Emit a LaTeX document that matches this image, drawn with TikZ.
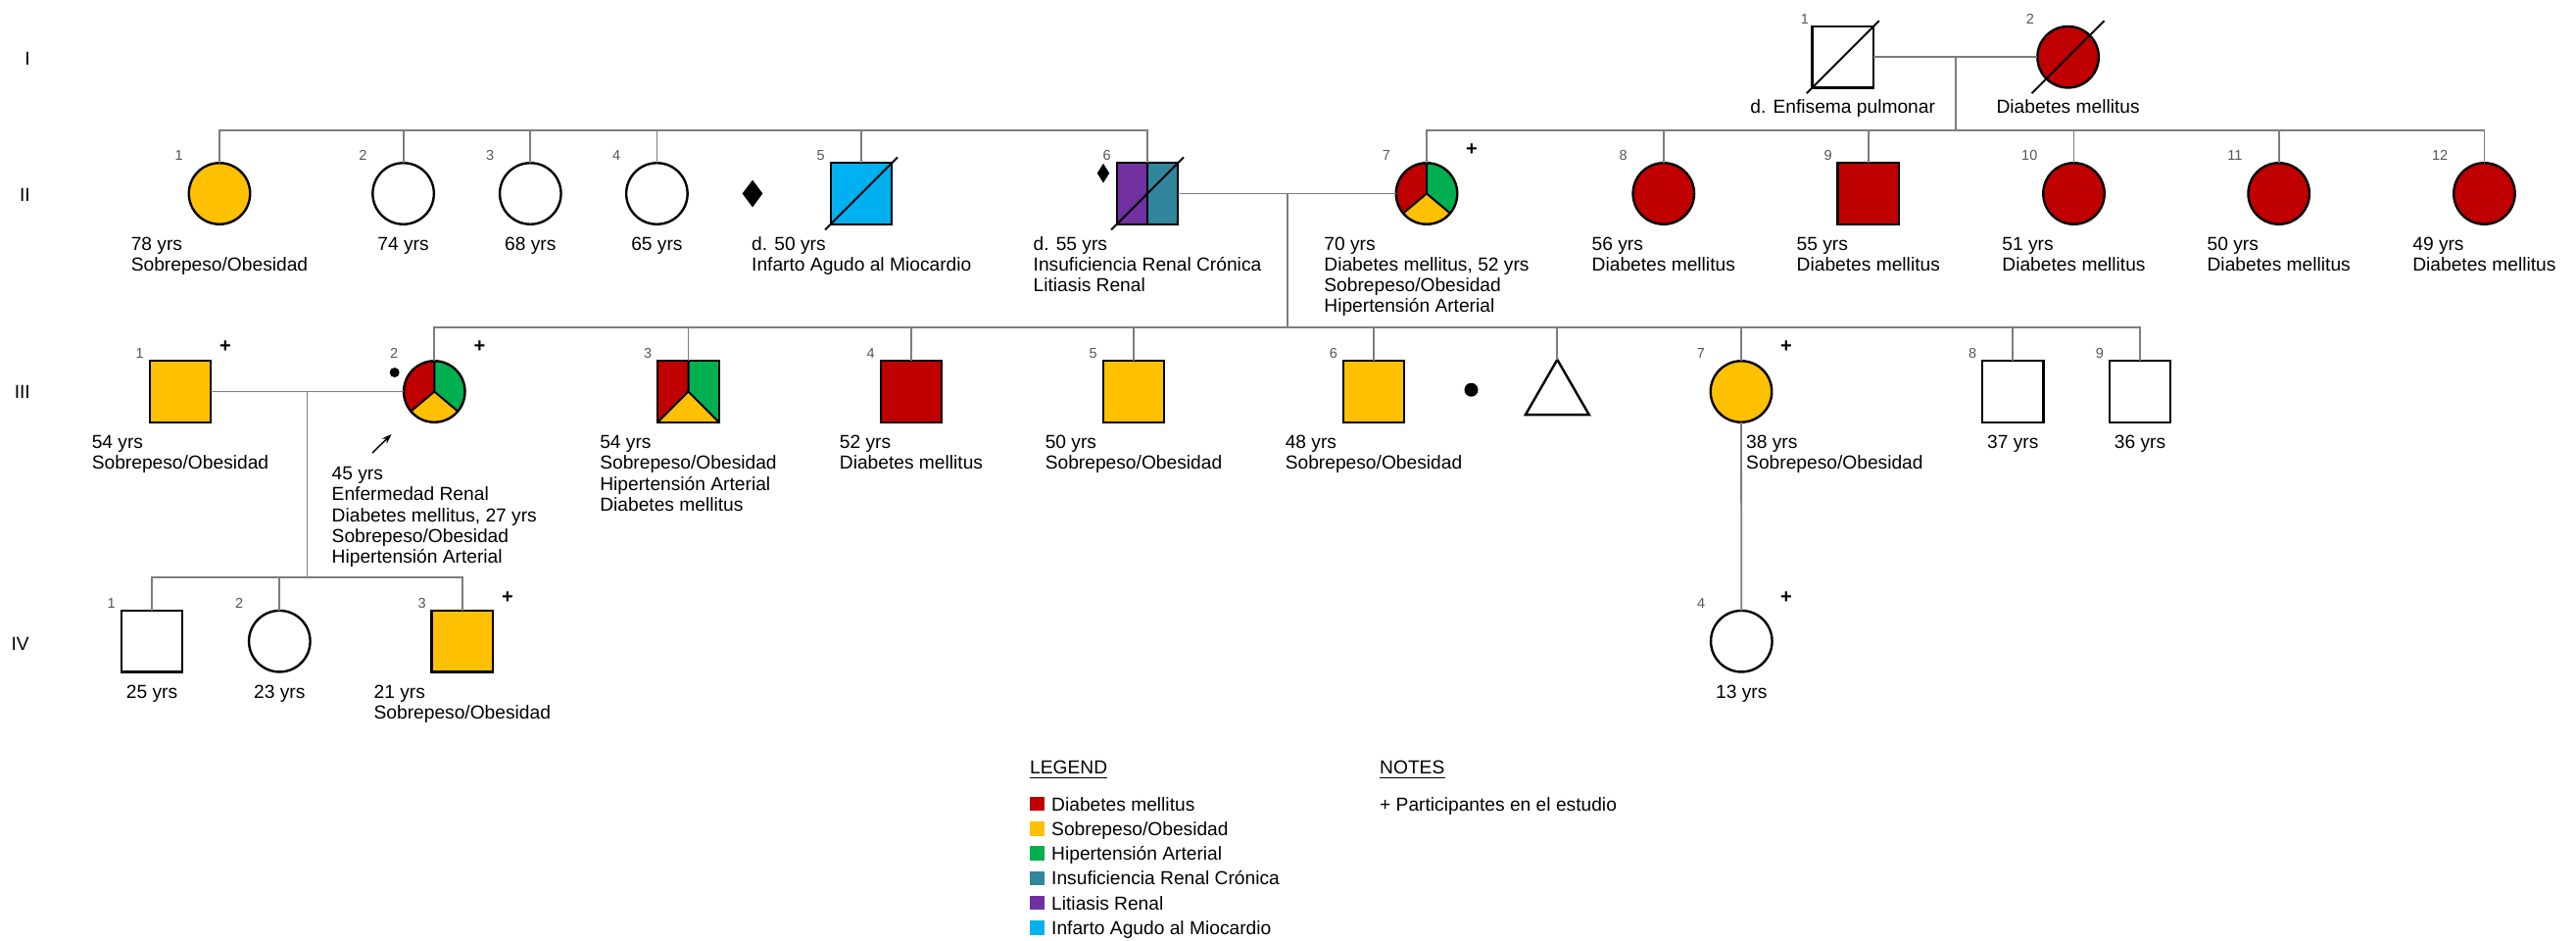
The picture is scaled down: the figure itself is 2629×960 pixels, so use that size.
\documentclass[tikz,border=0pt]{standalone}
\usepackage{fontspec}
\setmainfont{Liberation Sans}
\usetikzlibrary{shapes.geometric,arrows.meta}
\pgfdeclarelayer{bg}
\pgfsetlayers{bg,main}

\definecolor{dmred}{RGB}{192,0,0}
\definecolor{obyel}{RGB}{255,192,0}
\definecolor{hagreen}{RGB}{0,176,80}
\definecolor{irteal}{RGB}{49,133,156}
\definecolor{lrpurple}{RGB}{112,48,160}
\definecolor{iamblue}{RGB}{0,176,240}
\definecolor{linegray}{RGB}{125,125,125}
\definecolor{numgray}{RGB}{85,85,85}

% left-aligned block of lines, baseline on the first line
\newcommand{\pedtext}[1]{\begin{tabular}[t]{@{}l@{}}#1\end{tabular}}

% three-sector fill: diabetes (left), hypertension (right), overweight (bottom)
\newcommand{\piefill}[1]{%
  \begin{pgfonlayer}{bg}
    \begin{scope}
      \clip (#1.center) circle[radius=31.25pt];
      \fill[dmred] (#1.center) -- +(140:60) -- +(180:60) -- +(225:60) -- +(270:60) -- cycle;
      \fill[hagreen] (#1.center) -- +(270:60) -- +(315:60) -- +(0:60) -- +(40:60) -- cycle;
      \fill[obyel] (#1.center) -- +(40:60) -- +(90:60) -- +(140:60) -- cycle;
    \end{scope}
  \end{pgfonlayer}
  \draw[divide] (#1.center) -- +(270:31.25) (#1.center) -- +(140:31.25) (#1.center) -- +(40:31.25);}

\begin{document}
\begin{tikzpicture}[x=1pt,y=-1pt,
  conn/.style={draw=linegray, line width=1.8pt},
  sym/.style={draw=black, line width=2.4pt, inner sep=0pt, outer sep=0pt},
  male/.style={sym, rectangle, minimum size=62.5pt},
  female/.style={sym, circle, minimum size=62.5pt},
  dead/.style={draw=black, line width=2pt},
  divide/.style={draw=black, line width=2pt},
  num/.style={inner sep=0pt, anchor=east, text=numgray, font=\fontsize{14.5}{16}\selectfont},
  plus/.style={inner sep=0pt, font=\fontsize{20}{22}\selectfont\bfseries},
  lbl/.style={inner sep=0pt, anchor=base, font=\fontsize{19.2}{21.3}\selectfont},
  lbll/.style={inner sep=0pt, anchor=base west, font=\fontsize{19.2}{21.3}\selectfont},
  gen/.style={inner sep=0pt, anchor=east, font=\fontsize{19.2}{21.3}\selectfont},
  swatch/.style={inner sep=0pt, minimum width=15pt, minimum height=14.5pt},
  bullet/.style={circle, fill=black, inner sep=0pt},
]
\useasboundingbox (0,0) rectangle (2629,960);

% generation labels
\node[gen] (gI) at (31,60) {I};
\node[gen] (gII) at (31,199) {II};
\node[gen] (gIII) at (31,400) {III};
\node[gen] (gIV) at (30,657) {IV};

% ---------- generation I ----------
\node[male] (I1) at (1880.7,58.2) {};
\node[female, fill=dmred] (I2) at (2110.6,58.2) {};
\draw[dead] (I1.center) +(-37,37) -- +(37,-37);
\draw[dead] (I2.center) +(-37,37) -- +(37,-37);
\node[num] (I1n) at (1846,19.2) {1};
\node[num] (I2n) at (2076,19.2) {2};
\node[lbl] (I1l) at (1880.7,116) {d. Enfisema pulmonar};
\node[lbl] (I2l) at (2110.6,116) {Diabetes mellitus};

% ---------- generation II ----------
\node[female, fill=obyel] (II1) at (224,197.5) {};
\node[female] (II2) at (411.6,197.5) {};
\node[female] (II3) at (541.3,197.5) {};
\node[female] (II4) at (670.4,197.5) {};
\node[diamond, fill=black, inner sep=0pt, minimum width=21pt, minimum height=28pt] (dmd5) at (768,197.5) {};
\node[male, fill=iamblue] (II5) at (879,197.5) {};
\draw[dead] (II5.center) +(-37,37) -- +(37,-37);
\node[male] (II6) at (1171,197.5) {};
\begin{pgfonlayer}{bg}
  \fill[lrpurple] (II6.north west) rectangle (II6.south);
  \fill[irteal] (II6.north) rectangle (II6.south east);
\end{pgfonlayer}
\draw[divide] (II6.north) -- (II6.south);
\draw[dead] (II6.center) +(-37,37) -- +(37,-37);
\node[diamond, fill=black, inner sep=0pt, minimum width=12.5pt, minimum height=20pt] (dmd6) at (1126,176.7) {};
\node[female] (II7) at (1456,197.5) {};
\piefill{II7}
\node[female, fill=dmred] (II8) at (1697.8,197.5) {};
\node[male, fill=dmred] (II9) at (1906.8,197.5) {};
\node[female, fill=dmred] (II10) at (2116.5,197.5) {};
\node[female, fill=dmred] (II11) at (2325.7,197.5) {};
\node[female, fill=dmred] (II12) at (2535.4,197.5) {};

\node[num] (II1n) at (187,158.5) {1};
\node[num] (II2n) at (374.6,158.5) {2};
\node[num] (II3n) at (504.3,158.5) {3};
\node[num] (II4n) at (633.4,158.5) {4};
\node[num] (II5n) at (842,158.5) {5};
\node[num] (II6n) at (1134,158.5) {6};
\node[num] (II7n) at (1419,158.5) {7};
\node[num] (II8n) at (1660.8,158.5) {8};
\node[num] (II9n) at (1869.8,158.5) {9};
\node[num] (II10n) at (2079.5,158.5) {10};
\node[num] (II11n) at (2288.7,158.5) {11};
\node[num] (II12n) at (2498.4,158.5) {12};
\node[plus] (II7p) at (1502,152.5) {+};

\node[lbl] (II1l) at (224,255) {\pedtext{78 yrs\\Sobrepeso/Obesidad}};
\node[lbl] (II2l) at (411.6,255) {74 yrs};
\node[lbl] (II3l) at (541.3,255) {68 yrs};
\node[lbl] (II4l) at (670.4,255) {65 yrs};
\node[lbll] (II5l) at (767,255) {\pedtext{d. 50 yrs\\Infarto Agudo al Miocardio}};
\node[lbl] (II6l) at (1171,255) {\pedtext{d. 55 yrs\\Insuficiencia Renal Crónica\\Litiasis Renal}};
\node[lbl] (II7l) at (1456,255) {\pedtext{70 yrs\\Diabetes mellitus, 52 yrs\\Sobrepeso/Obesidad\\Hipertensión Arterial}};
\node[lbl] (II8l) at (1697.8,255) {\pedtext{56 yrs\\Diabetes mellitus}};
\node[lbl] (II9l) at (1906.8,255) {\pedtext{55 yrs\\Diabetes mellitus}};
\node[lbl] (II10l) at (2116.5,255) {\pedtext{51 yrs\\Diabetes mellitus}};
\node[lbl] (II11l) at (2325.7,255) {\pedtext{50 yrs\\Diabetes mellitus}};
\node[lbl] (II12l) at (2535.4,255) {\pedtext{49 yrs\\Diabetes mellitus}};

% ---------- generation III ----------
\node[male, fill=obyel] (III1) at (184,399.5) {};
\node[female] (III2) at (443.3,399.5) {};
\piefill{III2}
\node[male] (III3) at (702.5,399.5) {};
\begin{pgfonlayer}{bg}
  \fill[dmred] (III3.north west) -- (III3.north) -- (III3.center) -- (III3.south west) -- cycle;
  \fill[hagreen] (III3.north) -- (III3.north east) -- (III3.south east) -- (III3.center) -- cycle;
  \fill[obyel] (III3.south west) -- (III3.center) -- (III3.south east) -- cycle;
\end{pgfonlayer}
\draw[divide] (III3.north) -- (III3.center) -- (III3.south west) (III3.center) -- (III3.south east);
\node[male, fill=dmred] (III4) at (930,399.5) {};
\node[male, fill=obyel] (III5) at (1157,399.5) {};
\node[male, fill=obyel] (III6) at (1402,399.5) {};
\node[bullet, minimum size=14pt] (dot6) at (1501.5,397.7) {};
\node[sym, regular polygon, regular polygon sides=3, minimum size=75pt] (tri) at (1589.3,404.4) {};
\node[female, fill=obyel] (III7) at (1777,399.5) {};
\node[male] (III8) at (2054.3,399.5) {};
\node[male] (III9) at (2184,399.5) {};
\node[bullet, minimum size=10pt] (dot2) at (402.7,380) {};

\node[num] (III1n) at (147,360.5) {1};
\node[num] (III2n) at (406.3,360.5) {2};
\node[num] (III3n) at (665.5,360.5) {3};
\node[num] (III4n) at (893,360.5) {4};
\node[num] (III5n) at (1120,360.5) {5};
\node[num] (III6n) at (1365,360.5) {6};
\node[num] (III7n) at (1740,360.5) {7};
\node[num] (III8n) at (2017.3,360.5) {8};
\node[num] (III9n) at (2147,360.5) {9};
\node[plus] (III1p) at (230,354) {+};
\node[plus] (III2p) at (489.5,354) {+};
\node[plus] (III7p) at (1823,354) {+};

% proband arrow
\coordinate (prbTail) at (380,462);
\coordinate (prbTip) at (399.5,443);
\draw[line width=1.4pt, -{Stealth[length=10pt,width=7pt]}] (prbTail) -- (prbTip);

\node[lbl] (III1l) at (184,457.5) {\pedtext{54 yrs\\Sobrepeso/Obesidad}};
\node[lbl] (III2l) at (443.3,489.5) {\pedtext{45 yrs\\Enfermedad Renal\\Diabetes mellitus, 27 yrs\\Sobrepeso/Obesidad\\Hipertensión Arterial}};
\node[lbl] (III3l) at (702.5,457.5) {\pedtext{54 yrs\\Sobrepeso/Obesidad\\Hipertensión Arterial\\Diabetes mellitus}};
\node[lbl] (III4l) at (930,457.5) {\pedtext{52 yrs\\Diabetes mellitus}};
\node[lbl] (III5l) at (1157,457.5) {\pedtext{50 yrs\\Sobrepeso/Obesidad}};
\node[lbl] (III6l) at (1402,457.5) {\pedtext{48 yrs\\Sobrepeso/Obesidad}};
\node[lbll] (III7l) at (1782,457.5) {\pedtext{38 yrs\\Sobrepeso/Obesidad}};
\node[lbl] (III8l) at (2054.3,457.5) {37 yrs};
\node[lbl] (III9l) at (2184,457.5) {36 yrs};

% ---------- generation IV ----------
\node[male] (IV1) at (155,654.2) {};
\node[female] (IV2) at (285.3,654.2) {};
\node[male, fill=obyel] (IV3) at (471.8,654.2) {};
\node[female] (IV4) at (1777.3,654.2) {};
\node[num] (IV1n) at (118,615.2) {1};
\node[num] (IV2n) at (248.3,615.2) {2};
\node[num] (IV3n) at (434.8,615.2) {3};
\node[num] (IV4n) at (1740.3,615.2) {4};
\node[plus] (IV3p) at (518,609.2) {+};
\node[plus] (IV4p) at (1823,609.2) {+};
\node[lbl] (IV1l) at (155,712.5) {25 yrs};
\node[lbl] (IV2l) at (285.3,712.5) {23 yrs};
\node[lbl] (IV3l) at (471.8,712.5) {\pedtext{21 yrs\\Sobrepeso/Obesidad}};
\node[lbl] (IV4l) at (1777.3,712.5) {13 yrs};

% ---------- connectors ----------
% couple I-1 / I-2 and their children
\draw[conn] (I1.east) -- (I2.west);
\coordinate (Idesc) at (1995.7,58.2);
\coordinate (IIsibR) at (1995.7,132.7);
\draw[conn] (Idesc) -- (IIsibR);
\draw[conn] (II7.north) |- (IIsibR) -| (II12.north);
\foreach \k in {II8,II9,II10,II11} \draw[conn] (\k.north) -- (\k.north |- IIsibR);

% sibship of II-1 .. II-6
\coordinate (IIsibL) at (700,132.7);
\draw[conn] (II1.north) |- (IIsibL) -| (II6.north);
\foreach \k in {II2,II3,II4,II5} \draw[conn] (\k.north) -- (\k.north |- IIsibL);

% couple II-6 / II-7 and their children
\draw[conn] (II6.east) -- (II7.west);
\coordinate (IIdesc) at (1313.8,197.5);
\coordinate (IIIsib) at (1313.8,334.3);
\draw[conn] (IIdesc) -- (IIIsib);
\draw[conn] (III2.north) |- (IIIsib) -| (III9.north);
\foreach \k in {III3,III4,III5,III6,tri,III7,III8} \draw[conn] (\k.north) -- (\k.north |- IIIsib);

% couple III-1 / III-2 and their children
\draw[conn] (III1.east) -- (III2.west);
\coordinate (IIIdesc) at (313.4,399.5);
\coordinate (IVsib) at (313.4,589.3);
\draw[conn] (IIIdesc) -- (IVsib);
\draw[conn] (IV1.north) |- (IVsib) -| (IV3.north);
\draw[conn] (IV2.north) -- (IV2.north |- IVsib);

% III-7 to IV-4
\draw[conn] (III7.south) -- (IV4.north);

% ---------- legend ----------
\node[lbll] (LEG) at (1051,789.5) {LEGEND};
\draw[line width=1.8pt] ([yshift=-4pt]LEG.base west) -- ([yshift=-4pt]LEG.base east);
\node[swatch, fill=dmred] (sw1) at (1058.6,820) {};
\node[swatch, fill=obyel] (sw2) at (1058.6,845.3) {};
\node[swatch, fill=hagreen] (sw3) at (1058.6,870.6) {};
\node[swatch, fill=irteal] (sw4) at (1058.6,895.9) {};
\node[swatch, fill=lrpurple] (sw5) at (1058.6,921.2) {};
\node[swatch, fill=iamblue] (sw6) at (1058.6,946.5) {};
\node[lbll] (lg1) at (1073,827) {Diabetes mellitus};
\node[lbll] (lg2) at (1073,852.3) {Sobrepeso/Obesidad};
\node[lbll] (lg3) at (1073,877.6) {Hipertensión Arterial};
\node[lbll] (lg4) at (1073,902.9) {Insuficiencia Renal Crónica};
\node[lbll] (lg5) at (1073,928.2) {Litiasis Renal};
\node[lbll] (lg6) at (1073,953.5) {Infarto Agudo al Miocardio};

\node[lbll] (NOT) at (1408,789.5) {NOTES};
\draw[line width=1.8pt] ([yshift=-4pt]NOT.base west) -- ([yshift=-4pt]NOT.base east);
\node[lbll] (nt1) at (1408,827) {+ Participantes en el estudio};
\end{tikzpicture}
\end{document}
